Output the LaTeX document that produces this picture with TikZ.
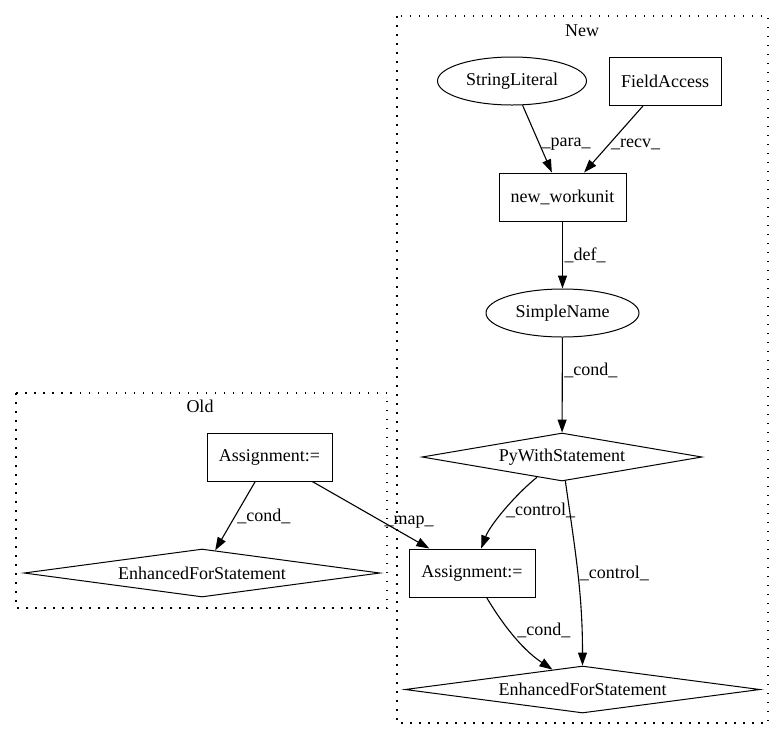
\documentclass[tikz,border=0pt]{standalone}
\usepackage{fontspec}
\setmainfont{Liberation Serif}
\usetikzlibrary{shapes.geometric,arrows.meta}
\begin{document}
\begin{tikzpicture}[x=1pt,y=1pt,
            every node/.style={font=\fontsize{18}{21}\selectfont},
            box/.style={draw, line width=1pt, rectangle, minimum height=48pt, inner sep=0pt},
            oval/.style={draw, line width=1pt, ellipse, minimum height=48pt, inner sep=0pt},
            rhomb/.style={draw, line width=1pt, diamond, aspect=6, minimum height=48pt, inner sep=0pt},
            link/.style={line width=1.1pt, -{Triangle[length=13pt,width=9pt]}},
            elab/.style={inner sep=1.5pt},
            cluster/.style={line width=1.2pt, dash pattern=on 1.5pt off 7.5pt}]
            \useasboundingbox (0,0) rectangle (784,-740);

            \draw [cluster] (397,-16) rectangle (768,-723);
            \node (newlbl) at (582,-31) {New};
            \draw [cluster] (16,-393) rectangle (387,-608);
            \node (oldlbl) at (200,-406) {Old};

            \node[oval, minimum width=149pt] (strlit) at (512,-81) {StringLiteral};
            \node[box, minimum width=112pt] (field) at (665,-81) {FieldAccess};
            \node[box, minimum width=127pt] (neww) at (562.5,-197) {new\_workunit};
            \node[oval, minimum width=153pt] (simple) at (562.5,-313) {SimpleName};
            \node[rhomb, minimum width=280pt] (pyw) at (562,-457) {PyWithStatement};
            \node[box, minimum width=126pt] (asgn) at (472,-573) {Assignment:=};
            \node[rhomb, minimum width=355pt, minimum height=47pt] (efs) at (582.5,-689.5) {EnhancedForStatement};

            \node[box, minimum width=125pt] (oasgn) at (269.5,-457) {Assignment:=};
            \node[rhomb, minimum width=356pt] (oefs) at (202,-573) {EnhancedForStatement};

            \draw [link] (strlit) -- node[elab, pos=0.58, right] (lpara) {\_para\_} (neww);
            \draw [link] (field) -- node[elab, pos=0.58, right] (lrecv) {\_recv\_} (neww);
            \draw [link] (neww) -- node[elab, pos=0.5, right] (ldef) {\_def\_} (simple);
            \draw [link] (simple) -- node[elab, pos=0.35, right] (lcond) {\_cond\_} (pyw);
            \draw [link] (pyw) .. controls (515,-495) and (490,-525) .. node[elab, pos=0.5, right] (lctrla) {\_control\_} (asgn);
            \draw [link] (pyw) to[out=-82, in=90] node[elab, pos=0.5, right] (lctrlb) {\_control\_} (efs);
            \draw [link] (asgn) .. controls (500,-620) and (520,-648) .. node[elab, pos=0.45, right=6pt] (lcondb) {\_cond\_} (efs);
            \draw [link] (oasgn) -- node[elab, pos=0.5, right] (lcondc) {\_cond\_} (oefs);
            \draw [link] (oasgn) -- node[elab, pos=0.6, right] (lmap) {\_map\_} (asgn);

\end{tikzpicture}
\end{document}
